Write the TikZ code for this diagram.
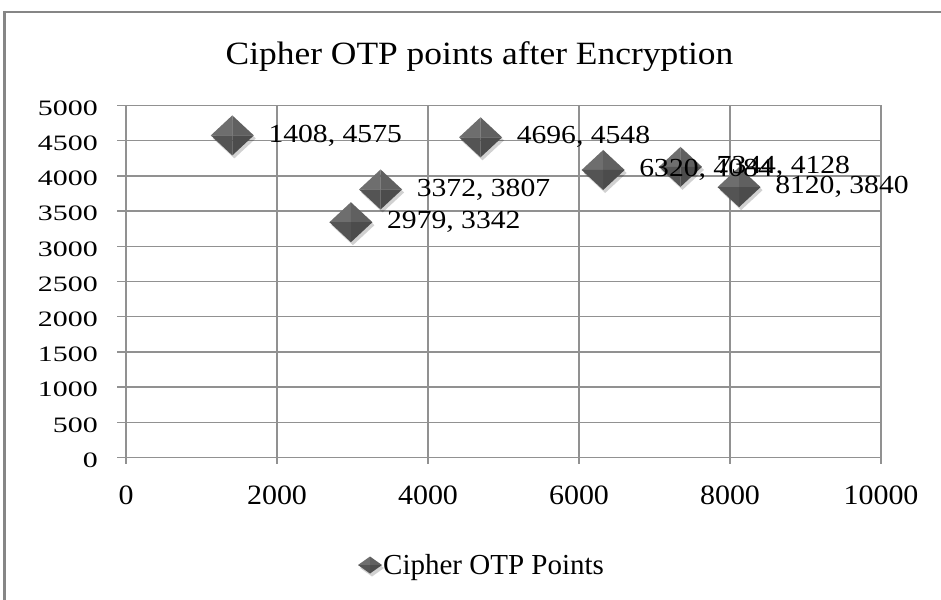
\documentclass[tikz,border=0pt]{standalone}
\usepackage{fontspec}
\setmainfont{Liberation Serif}
\usepackage{graphicx}
\usetikzlibrary{calc}
\definecolor{framegray}{RGB}{134,134,134}
\definecolor{gridgray}{RGB}{145,145,145}
\definecolor{gemA}{RGB}{110,110,110}
\definecolor{gemB}{RGB}{96,96,96}
\definecolor{gemC}{RGB}{76,76,76}
\definecolor{gemD}{RGB}{84,84,84}
\newcommand{\ylab}[1]{\scalebox{1.36}[1]{\fontsize{22}{22}\selectfont #1}}
\newcommand{\xlab}[1]{\scalebox{1.07}[1]{\fontsize{28}{28}\selectfont #1}}
\newcommand{\dlab}[1]{\scalebox{1.14}[1]{\fontsize{26}{26}\selectfont #1}}
\newcommand{\drawgem}[4]{%
  \begin{scope}[shift={(#1)}]
    \fill[black, opacity=0.18] (-#2+2,3) -- (2,-#3+3) -- (#2+2,3) -- (2,#3+3) -- cycle;
    \fill[gemA] (-#2,0) -- (0,-#3) -- (0,0) -- cycle;
    \fill[gemB] (0,-#3) -- (#2,0) -- (0,0) -- cycle;
    \fill[gemC] (#2,0) -- (0,#3) -- (0,0) -- cycle;
    \fill[gemD] (0,#3) -- (-#2,0) -- (0,0) -- cycle;
  \end{scope}}
\tikzset{
  gridline/.style={gridgray, line width=1.3pt},
  framebox/.style={framegray, line width=2.5pt},
  datalabel/.style={anchor=west, inner sep=0pt, text=black},
  ylabel/.style={anchor=east, inner sep=0pt},
  xlabel/.style={anchor=center, inner sep=0pt}
}
\begin{document}
\begin{tikzpicture}[x=1pt,y=-1pt]
\useasboundingbox (0,0) rectangle (941,599);
\fill[white] (0,0) rectangle (941,599);
% outer frame (clipped at right and bottom)
\draw[framebox] (4.5,640) -- (4.5,12) -- (980,12);
% title
\node[anchor=base, inner sep=0pt] (title) at (479.5,65)
  {\scalebox{1.09}[1]{\fontsize{32.5}{32.5}\selectfont Cipher OTP points after Encryption}};
% horizontal grid lines and y ticks
\foreach \j in {0,...,10} {
  \draw[gridline] (117,{457.5-\j*35.2}) -- (881,{457.5-\j*35.2});
}
% vertical grid lines and x ticks
\foreach \i in {0,...,5} {
  \draw[gridline] ({126+\i*151},105.5) -- ({126+\i*151},463.5);
}
% y labels
\foreach \j/\v in {0/0,1/500,2/1000,3/1500,4/2000,5/2500,6/3000,7/3500,8/4000,9/4500,10/5000} {
  \node[ylabel] (yl\j) at (98,{460-\j*35.2}) {\ylab{\v}};
}
% x labels
\foreach \i/\v in {0/0,1/2000,2/4000,3/6000,4/8000,5/10000} {
  \node[xlabel] (xl\i) at ({126+\i*151},495.5) {\xlab{\v}};
}
% data points
\foreach \n/\px/\py in {p1/1408/4575,p2/4696/4548,p3/3372/3807,p4/2979/3342,p5/6320/4084,p6/7344/4128,p7/8120/3840} {
  \coordinate (\n) at ({126+\px*0.0755},{457.5-\py*0.0704});
}
\foreach \n in {p1,p2,p3,p4,p5,p6,p7} {
  \drawgem{\n}{21.5}{20}{}
}
% data labels
\node[datalabel] (l1) at ($(p1)+(36,0)$) {\dlab{1408, 4575}};
\node[datalabel] (l2) at ($(p2)+(36,0)$) {\dlab{4696, 4548}};
\node[datalabel] (l3) at ($(p3)+(36,0)$) {\dlab{3372, 3807}};
\node[datalabel] (l4) at ($(p4)+(36,0)$) {\dlab{2979, 3342}};
\node[datalabel] (l5) at ($(p5)+(36,0)$) {\dlab{6320, 4084}};
\node[datalabel] (l6) at ($(p6)+(36,0)$) {\dlab{7344, 4128}};
\node[datalabel] (l7) at ($(p7)+(36,0)$) {\dlab{8120, 3840}};
% legend
\coordinate (legmark) at (370,565);
\drawgem{legmark}{12}{8.5}{}
\node[anchor=base west, inner sep=0pt] (legtext) at (383,574)
  {\fontsize{29}{29}\selectfont Cipher OTP Points};
\end{tikzpicture}
\end{document}
